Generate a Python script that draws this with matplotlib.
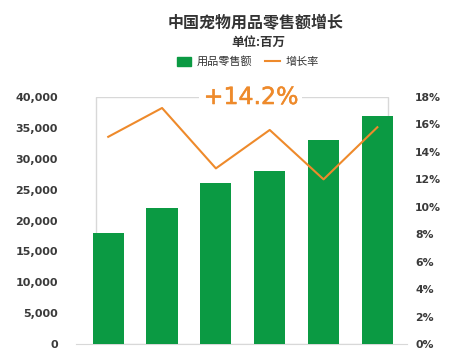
import matplotlib
matplotlib.use('Agg')
import matplotlib.pyplot as plt
import matplotlib.patheffects as pe
from matplotlib.patches import Rectangle
from matplotlib.lines import Line2D
from matplotlib.ticker import FuncFormatter

plt.rcParams['font.family'] = ['Noto Sans CJK SC', 'DejaVu Sans']

# data
years = ['2015', '2016', '2017', '2018', '2019', '2020']
sales = [18000, 22000, 26000, 28000, 33000, 37000]
growth = [15.1, 17.2, 12.8, 15.6, 12.0, 15.8]
left_ticks = [0, 5000, 10000, 15000, 20000, 25000, 30000, 35000, 40000]
right_ticks = [0, 2, 4, 6, 8, 10, 12, 14, 16, 18]
headline = '+14.2%'

green = '#0B9A43'
orange = '#EE8A2B'
tick_color = '#3a3a3a'

fig = plt.figure(figsize=(4.63, 3.58), dpi=100)
ax = fig.add_axes([0.164, 0.039, 0.715, 0.69])
ax2 = ax.twinx()

x = list(range(len(years)))
ax.bar(x, sales, width=0.58, color=green, zorder=3)

# decorative light frame behind the bars
ax.add_patch(Rectangle((-0.22, 0), 5.41, 40000, fill=False, ec='#d8d8d8', lw=1, zorder=1))

ax.set_xlim(-0.6, 5.55)
ax.set_ylim(0, 40000)
ax.set_yticks(left_ticks)
ax.yaxis.set_major_formatter(FuncFormatter(lambda v, p: '{:,.0f}'.format(v)))
ax.set_xticks([])
for s in ['top', 'left', 'right']:
    ax.spines[s].set_visible(False)
ax.spines['bottom'].set_color('#d8d8d8')
ax.tick_params(axis='y', length=0, pad=13, labelcolor=tick_color)
for lab in ax.get_yticklabels():
    lab.set_family('DejaVu Sans')
    lab.set_fontweight('bold')
    lab.set_fontsize(8)

ax2.plot(x, growth, color=orange, lw=1.5, zorder=4)
ax2.set_ylim(0, 18)
ax2.set_yticks(right_ticks)
ax2.yaxis.set_major_formatter(FuncFormatter(lambda v, p: '%d%%' % v))
for s in ['top', 'left', 'right', 'bottom']:
    ax2.spines[s].set_visible(False)
ax2.tick_params(axis='y', length=0, pad=6, labelcolor=tick_color)
for lab in ax2.get_yticklabels():
    lab.set_family('DejaVu Sans')
    lab.set_fontweight('bold')
    lab.set_fontsize(7.8)

ax2.text(2.65, 18, headline, ha='center', va='center', fontsize=17, color=orange,
         family='DejaVu Sans', zorder=6,
         bbox=dict(fc='white', ec='none', pad=3),
         path_effects=[pe.withStroke(linewidth=0.35, foreground=orange)])

fig.text(0.553, 0.935, '中国宠物用品零售额增长', ha='center', va='center',
         fontsize=11.5, fontweight='bold', color='#333333')
fig.text(0.557, 0.882, '单位:百万', ha='center', va='center',
         fontsize=9, fontweight='bold', color='#333333')

handles = [Rectangle((0, 0), 1, 1, color=green),
           Line2D([0], [0], color=orange, lw=1.5)]
fig.legend(handles, ['用品零售额', '增长率'], loc='center', bbox_to_anchor=(0.535, 0.827),
           ncol=2, frameon=False, fontsize=8, handlelength=1.3, handleheight=0.9,
           columnspacing=1.2, handletextpad=0.5, labelcolor='#333333')

fig.savefig('out.png', dpi=100)
